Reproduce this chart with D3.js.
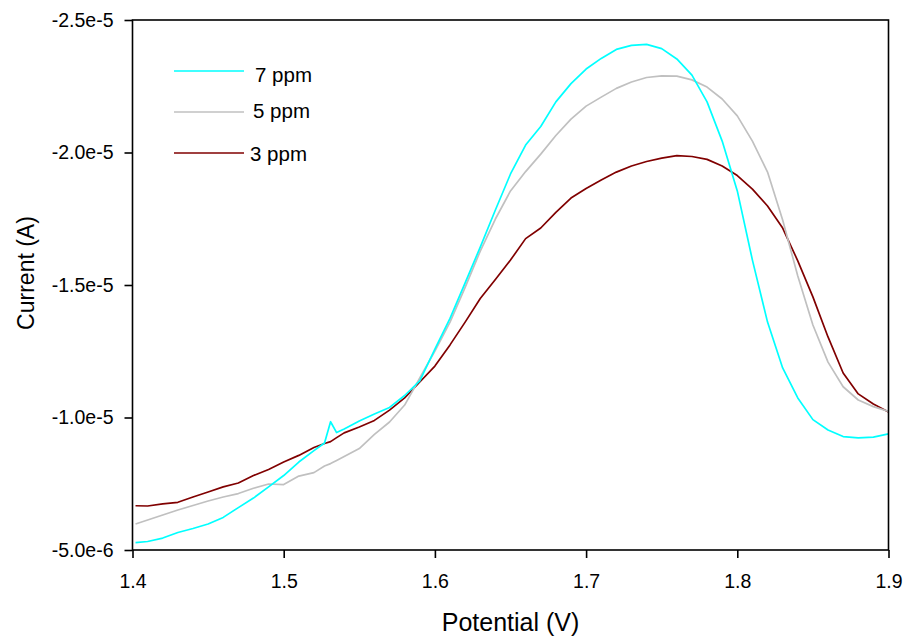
<!DOCTYPE html>
<html>
<head>
<meta charset="utf-8">
<script src="https://cdn.jsdelivr.net/npm/d3@7"></script>
<style>
  body { margin: 0; background: #fff; }
  text { font-family: Arial, "Liberation Sans", sans-serif; fill: #000; }
</style>
</head>
<body>
<svg id="chart" width="904" height="639"></svg>
<script>
// potential (V)
const potential = [1.402, 1.41, 1.42, 1.43, 1.44, 1.45, 1.46, 1.47, 1.48, 1.49, 1.50, 1.51, 1.52,
  1.527, 1.531, 1.535, 1.54, 1.55, 1.56, 1.57, 1.58, 1.59, 1.60, 1.61, 1.62, 1.63, 1.64, 1.65,
  1.66, 1.67, 1.68, 1.69, 1.70, 1.71, 1.72, 1.73, 1.74, 1.75, 1.76, 1.77, 1.78, 1.79, 1.80,
  1.81, 1.82, 1.83, 1.84, 1.85, 1.86, 1.87, 1.88, 1.89, 1.90];

// current, in units of 1e-6 A
const current7ppm = [-5.28, -5.32, -5.45, -5.66, -5.81, -5.98, -6.23, -6.60, -6.96, -7.38, -7.81, -8.32, -8.75,
  -9.04, -9.84, -9.43, -9.57, -9.87, -10.13, -10.38, -10.83, -11.38, -12.58, -13.74, -15.08, -16.43, -17.83, -19.19,
  -20.28, -20.98, -21.91, -22.60, -23.15, -23.55, -23.89, -24.04, -24.08, -23.92, -23.53, -22.92, -21.91, -20.43, -18.55,
  -15.94, -13.60, -11.87, -10.74, -9.92, -9.53, -9.28, -9.23, -9.26, -9.38];
const current5ppm = [-5.98, -6.13, -6.32, -6.51, -6.68, -6.85, -7.00, -7.13, -7.33, -7.49, -7.47, -7.79, -7.92,
  -8.17, -8.26, -8.38, -8.53, -8.83, -9.36, -9.83, -10.47, -11.49, -12.51, -13.60, -14.91, -16.28, -17.49, -18.55,
  -19.28, -19.94, -20.64, -21.26, -21.75, -22.09, -22.42, -22.66, -22.83, -22.89, -22.88, -22.74, -22.47, -22.02, -21.38,
  -20.43, -19.26, -17.45, -15.34, -13.49, -12.09, -11.16, -10.66, -10.41, -10.23];
const current3ppm = [-6.67, -6.66, -6.74, -6.80, -7.00, -7.19, -7.38, -7.53, -7.81, -8.04, -8.32, -8.57, -8.87,
  -9.02, -9.09, -9.24, -9.42, -9.64, -9.89, -10.28, -10.74, -11.34, -11.94, -12.74, -13.60, -14.49, -15.21, -15.94,
  -16.75, -17.15, -17.74, -18.28, -18.64, -18.96, -19.26, -19.49, -19.66, -19.79, -19.88, -19.85, -19.74, -19.49, -19.13,
  -18.62, -17.98, -17.15, -15.91, -14.55, -13.04, -11.68, -10.89, -10.51, -10.21];

const seriesNames = ["7 ppm", "5 ppm", "3 ppm"];
const seriesColors = ["#00ffff", "#c0c0c0", "#800000"];
const xTicks = [1.4, 1.5, 1.6, 1.7, 1.8, 1.9];
const yTicks = [-5, -10, -15, -20, -25];
const UNIT = 1e-6;

const svg = d3.select("#chart");
const plotLeft = 132.5, plotRight = 888.5, plotTop = 20, plotBottom = 550;

const x = d3.scaleLinear().domain([1.4, 1.9]).range([plotLeft, plotRight]);
const y = d3.scaleLinear().domain([-5, -25]).range([plotBottom, plotTop]);

// curves
const allSeries = [current7ppm, current5ppm, current3ppm];
const line = d3.line()
  .x((d, i) => x(potential[i]))
  .y(d => y(d));

// draw 3 ppm first so cyan sits on top, like the original
[2, 1, 0].forEach(k => {
  svg.append("path")
    .datum(allSeries[k])
    .attr("d", line)
    .attr("fill", "none")
    .attr("stroke", seriesColors[k])
    .attr("stroke-width", 1.7)
    .attr("stroke-linejoin", "round");
});

// frame
svg.append("rect")
  .attr("x", plotLeft).attr("y", plotTop)
  .attr("width", plotRight - plotLeft).attr("height", plotBottom - plotTop)
  .attr("fill", "none").attr("stroke", "#000").attr("stroke-width", 1.6);

// axes
const yAxis = svg.append("g")
  .attr("transform", `translate(${plotLeft},0)`)
  .call(d3.axisLeft(y).tickValues(yTicks).tickSize(8).tickSizeOuter(0).tickPadding(11)
    .tickFormat(d => (d * UNIT).toExponential(1)));
const xAxis = svg.append("g")
  .attr("transform", `translate(0,${plotBottom})`)
  .call(d3.axisBottom(x).tickValues(xTicks).tickSize(8).tickSizeOuter(0).tickPadding(16)
    .tickFormat(d3.format(".1f")));

[yAxis, xAxis].forEach(g => {
  g.select(".domain").remove();
  g.selectAll(".tick line").attr("stroke", "#000").attr("stroke-width", 1.6);
  g.selectAll(".tick text").style("font-size", "19.5px").attr("fill", "#000");
});

// axis titles
svg.append("text")
  .attr("x", (plotLeft + plotRight) / 2).attr("y", 631)
  .attr("text-anchor", "middle")
  .style("font-size", "25px")
  .text("Potential (V)");

svg.append("text")
  .attr("transform", "translate(34,273) rotate(-90)")
  .attr("text-anchor", "middle")
  .style("font-size", "23px")
  .text("Current (A)");

// legend
const legendLineY = [71, 112, 153];
const legendTextY = [82, 118, 161];
seriesNames.forEach((name, i) => {
  svg.append("line")
    .attr("x1", 174).attr("x2", 244)
    .attr("y1", legendLineY[i]).attr("y2", legendLineY[i])
    .attr("stroke", seriesColors[i]).attr("stroke-width", 1.7);
  svg.append("text")
    .attr("x", [255, 253, 250][i]).attr("y", legendTextY[i])
    .style("font-size", "20.5px")
    .text(name);
});
</script>
</body>
</html>
